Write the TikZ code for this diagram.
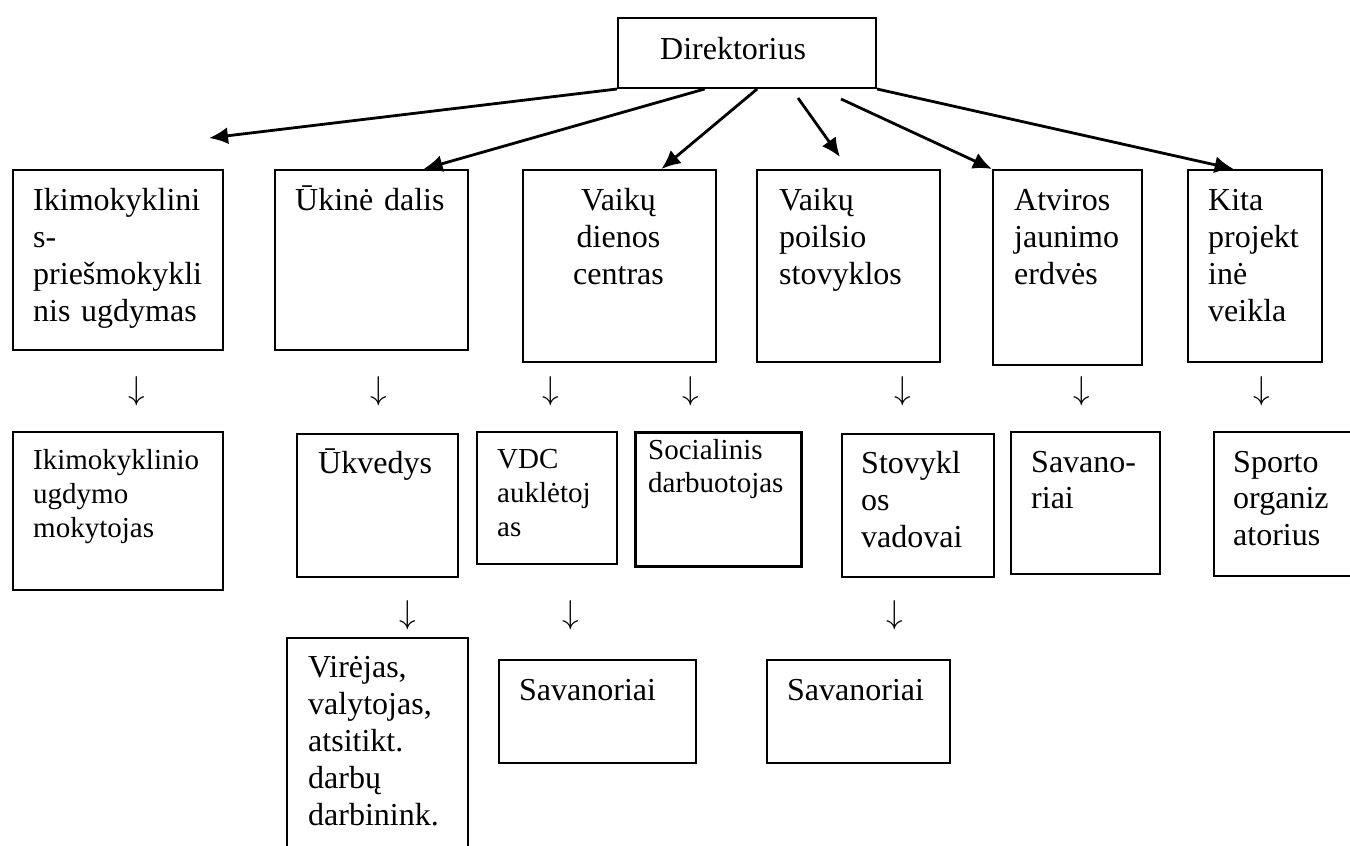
\documentclass[tikz,border=0pt]{standalone}
\usepackage{fontspec}
\setmainfont{Liberation Serif}
\usetikzlibrary{arrows.meta,calc}
\begin{document}
\begin{tikzpicture}[x=1pt,y=-1pt,
  box/.style={draw, line width=2pt, inner sep=0pt, anchor=north west},
  txt/.style={inner sep=0pt, anchor=base west, align=left, text width=200pt, font=\fontsize{32}{37}\selectfont},
  txts/.style={inner sep=0pt, anchor=base west, align=left, text width=200pt, font=\fontsize{29}{34}\selectfont},
  dn/.style={inner sep=0pt, font=\fontsize{33}{37}\selectfont},
  arr/.style={line width=2.8pt, -{Latex[length=19pt,width=17pt]}}]
\newcommand{\dnarrow}{\scalebox{1.33}{$\downarrow$}}
\useasboundingbox (0,0) rectangle (1350,846);
% director
\node[box, minimum width=258pt, minimum height=70pt] (dir) at (617,17) {};
\node[txt] (tdir) at (660,59) {Direktorius};
% row 1
\node[box, minimum width=210pt, minimum height=180pt] (ikim) at (12,169) {};
\node[box, minimum width=193pt, minimum height=180pt] (ukine) at (274,169) {};
\node[box, minimum width=193pt, minimum height=192pt] (vdc) at (522,169) {};
\node[box, minimum width=183pt, minimum height=192pt] (vps) at (756,169) {};
\node[box, minimum width=149pt, minimum height=195pt] (ajd) at (992,169) {};
\node[box, minimum width=134pt, minimum height=192pt] (kita) at (1187,169) {};
\node[txt] (tikim) at (33,210) {Ikimokyklini\\s-\\priešmokykli\\nis ugdymas};
\node[txt] (tukine) at (295,210) {Ūkinė dalis};
\node[txt, anchor=base, align=center, text width=190pt] (tvdc) at (618.5,210) {Vaikų\\dienos\\centras};
\node[txt] (tvps) at (779,210) {Vaikų\\poilsio\\stovyklos};
\node[txt] (tajd) at (1014,210) {Atviros\\jaunimo\\erdvės};
\node[txt] (tkita) at (1208,210) {Kita\\projekt\\inė\\veikla};
% arrows from director
\coordinate (e1) at (209,138);
\coordinate (s4) at (798,98);
\coordinate (e4) at (840,157);
\coordinate (s5) at (841,99);
\draw[arr] (dir.south west) -- (e1);
\draw[arr] ($(dir.south west)!0.337!(dir.south east)$) -- ($(ukine.north west)!0.767!(ukine.north east)$);
\draw[arr] ($(dir.south west)!0.539!(dir.south east)$) -- ($(vdc.north west)!0.715!(vdc.north east)$);
\draw[arr] (s4) -- (e4);
\draw[arr] (s5) -- (ajd.north west);
\draw[arr] (dir.south east) -- ($(kita.north west)!0.343!(kita.north east)$);
% down arrows row 1
\node[dn] (d1) at (137,391) {\dnarrow};
\node[dn] (d2) at (379,391) {\dnarrow};
\node[dn] (d3) at (551,391) {\dnarrow};
\node[dn] (d4) at (691,391) {\dnarrow};
\node[dn] (d5) at (903,391) {\dnarrow};
\node[dn] (d6) at (1082,391) {\dnarrow};
\node[dn] (d7) at (1262,391) {\dnarrow};
% row 2
\node[box, minimum width=210pt, minimum height=158pt] (ikim2) at (12,431) {};
\node[box, minimum width=161pt, minimum height=143pt] (ukv) at (296,433) {};
\node[box, minimum width=140pt, minimum height=132pt] (vdca) at (476,431) {};
\node[box, line width=3pt, minimum width=166pt, minimum height=134pt] (soc) at (634,431) {};
\node[box, minimum width=152pt, minimum height=143pt] (stov) at (841,433) {};
\node[box, minimum width=149pt, minimum height=142pt] (sav1) at (1010,431) {};
\node[box, minimum width=137pt, minimum height=144pt] (sport) at (1213,431) {};
\node[txts] (tikim2) at (33,469) {Ikimokyklinio\\ugdymo\\mokytojas};
\node[txt] (tukv) at (318,473) {Ūkvedys};
\node[txts] (tvdca) at (497,468) {VDC\\auklėtoj\\as};
\node[txts, font=\fontsize{29}{33}\selectfont] (tsoc) at (648,459) {Socialinis\\darbuotojas};
\node[txt] (tstov) at (861,473) {Stovykl\\os\\vadovai};
\node[txt, font=\fontsize{32}{36}\selectfont] (tsav1) at (1031,472) {Savano-\\riai};
\node[txt, font=\fontsize{32}{36.5}\selectfont] (tsport) at (1233,472) {Sporto\\organiz\\atorius};
% down arrows row 2
\node[dn] (d8) at (408,615) {\dnarrow};
\node[dn] (d9) at (571,615) {\dnarrow};
\node[dn] (d10) at (895,615) {\dnarrow};
% row 3
\node[box, minimum width=181pt, minimum height=230pt] (vir) at (286,637) {};
\node[box, minimum width=197pt, minimum height=103pt] (sav2) at (498,659) {};
\node[box, minimum width=183pt, minimum height=103pt] (sav3) at (766,659) {};
\node[txt] (tvir) at (308,677) {Virėjas,\\valytojas,\\atsitikt.\\darbų\\darbinink.};
\node[txt] (tsav2) at (519,700) {Savanoriai};
\node[txt] (tsav3) at (787,700) {Savanoriai};
\end{tikzpicture}
\end{document}
